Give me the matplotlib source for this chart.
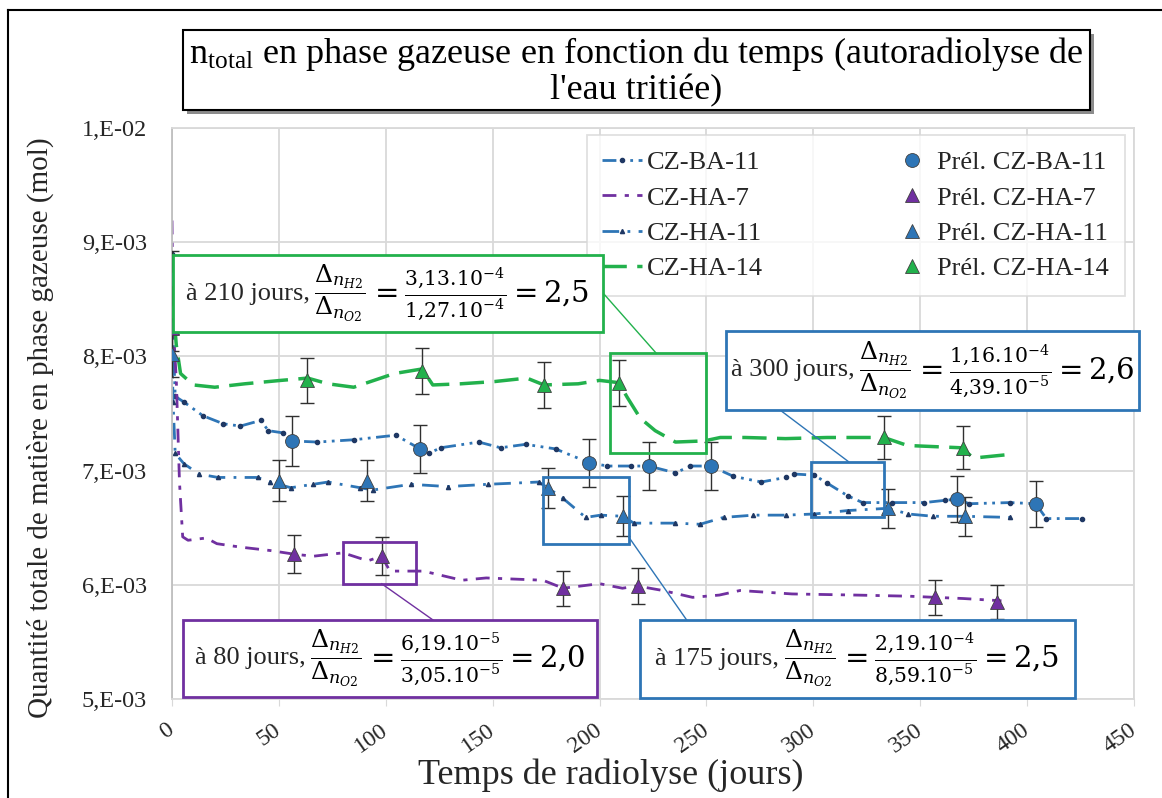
import matplotlib
matplotlib.use("Agg")
import matplotlib.pyplot as plt
from matplotlib.patches import Rectangle
from matplotlib.lines import Line2D
from matplotlib.offsetbox import TextArea, HPacker, AnnotationBbox

plt.rcParams['font.family'] = ['Liberation Serif', 'DejaVu Serif']
plt.rcParams['mathtext.fontset'] = 'dejavuserif'

# amounts in 1e-3 mol, time in days
ba11_x = [0, 0.5, 1.5, 5.6, 14.5, 24, 32, 41.6, 45, 52, 56, 68, 85, 104.7, 116, 120, 125.7,
          143.5, 153.7, 165.4, 179.4, 195, 203.7, 214.5, 223, 235.5, 242.5, 252, 262.6,
          275.7, 287, 291, 300.5, 306.5, 316, 323, 337, 352, 361.7, 367, 373, 392, 404,
          409, 425.7]
ba11_y = [8.9, 8.2, 7.65, 7.6, 7.48, 7.41, 7.39, 7.44, 7.35, 7.33, 7.26, 7.25, 7.27, 7.31,
          7.19, 7.15, 7.20, 7.25, 7.20, 7.23, 7.19, 7.07, 7.04, 7.04, 7.04, 6.98, 7.04,
          7.04, 6.95, 6.90, 6.94, 6.97, 6.96, 6.89, 6.78, 6.72, 6.72, 6.72, 6.74, 6.75,
          6.71, 6.72, 6.71, 6.58, 6.58]

ha7_x = [0, 0.5, 2, 3.5, 5, 7.5, 16, 21, 32, 46, 56.5, 66, 80, 91.6, 98, 102, 117.6, 135.6,
         147, 173.5, 183, 200, 210.7, 217.5, 229.6, 243.5, 256, 265.7, 290, 320, 345, 357,
         370, 388]
ha7_y = [9.19, 8.3, 7.8, 6.9, 6.42, 6.39, 6.41, 6.36, 6.33, 6.30, 6.27, 6.25, 6.28, 6.21,
         6.25, 6.12, 6.12, 6.04, 6.06, 6.04, 5.97, 6.01, 5.97, 5.99, 5.95, 5.89, 5.91, 5.95,
         5.92, 5.91, 5.90, 5.89, 5.88, 5.86]

ha11_x = [0, 0.5, 1.5, 5.6, 12.6, 21.5, 40, 46, 55.6, 66, 73, 88, 94, 111.7, 129, 147.7,
          171.5, 175.7, 182.7, 193.5, 200.5, 211, 216, 235.5, 247, 258, 272, 287, 300.5,
          316, 335, 344.4, 356, 371, 392]
ha11_y = [8.05, 7.6, 7.15, 7.06, 6.97, 6.94, 6.94, 6.90, 6.85, 6.88, 6.90, 6.85, 6.83,
          6.88, 6.86, 6.88, 6.90, 6.85, 6.76, 6.59, 6.61, 6.60, 6.54, 6.54, 6.53, 6.59,
          6.61, 6.61, 6.62, 6.65, 6.67, 6.62, 6.60, 6.60, 6.59]

ha14_x = [0, 0.5, 2, 4, 10, 20, 34, 51, 63.5, 73, 85, 104, 117, 122, 135, 151, 166, 174,
          190, 200, 209, 213, 219, 226, 235.5, 249, 256.5, 268, 287, 306.5, 321.5, 333, 344,
          369, 375, 391]
ha14_y = [8.9, 8.45, 8.1, 7.85, 7.75, 7.73, 7.76, 7.79, 7.81, 7.76, 7.73, 7.85, 7.89,
          7.75, 7.76, 7.78, 7.81, 7.75, 7.76, 7.79, 7.77, 7.64, 7.46, 7.35, 7.25, 7.26,
          7.29, 7.29, 7.28, 7.29, 7.29, 7.29, 7.22, 7.20, 7.11, 7.14]

# sampling points (Prél.) with error bars
pba11_x = [0, 56, 116, 195, 223, 252, 367, 404]
pba11_y = [8.68, 7.26, 7.19, 7.07, 7.04, 7.04, 6.75, 6.71]
pba11_e = [0.24, 0.22, 0.21, 0.21, 0.21, 0.21, 0.20, 0.20]

pha7_x = [0, 57, 98, 183, 218, 357, 386]
pha7_y = [8.25, 6.27, 6.25, 5.97, 5.99, 5.89, 5.85]
pha7_e = [0.20, 0.17, 0.165, 0.155, 0.16, 0.155, 0.15]

pha11_x = [0, 50, 91, 176, 211, 335, 371]
pha11_y = [8.02, 6.91, 6.91, 6.85, 6.60, 6.67, 6.60]
pha11_e = [0.20, 0.18, 0.18, 0.175, 0.175, 0.17, 0.17]

pha14_x = [0, 63, 117, 174, 209, 333, 370]
pha14_y = [8.40, 7.79, 7.87, 7.75, 7.77, 7.29, 7.20]
pha14_e = [0.20, 0.20, 0.20, 0.20, 0.20, 0.19, 0.19]

xticks = [0, 50, 100, 150, 200, 250, 300, 350, 400, 450]
yticks = [5, 6, 7, 8, 9, 10]
ytick_labels = ["5,E-03", "6,E-03", "7,E-03", "8,E-03", "9,E-03", "1,E-02"]

BLUE = '#2e75b6'
NAVY = '#1f3864'
PURPLE = '#7030a0'
GREEN = '#22b14c'
TEXT = '#262626'
GRID = '#d9d9d9'

W, H = 1162, 798


def fx(px):
    return px / W


def fy(py):
    return 1 - py / H


fig = plt.figure(figsize=(W / 100, H / 100), dpi=100)
ax = fig.add_axes([fx(172), fy(699), fx(1134) - fx(172), fy(128) - fy(699)])

ax.plot(ba11_x, ba11_y, color=BLUE, lw=2, ls=(0, (5, 2, 1, 2, 1, 2)), marker='o', ms=3,
        mfc=NAVY, mec=NAVY, label='CZ-BA-11', zorder=2)
ax.plot(ha7_x, ha7_y, color=PURPLE, lw=2, ls=(0, (5, 3, 1.5, 3)), label='CZ-HA-7', zorder=2)
ax.plot(ha11_x, ha11_y, color=BLUE, lw=2, ls=(0, (6, 3, 1, 3)), marker='^', ms=3,
        mfc=NAVY, mec=NAVY, label='CZ-HA-11', zorder=2)
ax.plot(ha14_x, ha14_y, color=GREEN, lw=2.5, ls=(0, (7, 3)), label='CZ-HA-14', zorder=2)

for px_, py_, pe_, col, mk, lab in [
        (pba11_x, pba11_y, pba11_e, BLUE, 'o', 'Prél. CZ-BA-11'),
        (pha7_x, pha7_y, pha7_e, PURPLE, '^', 'Prél. CZ-HA-7'),
        (pha11_x, pha11_y, pha11_e, BLUE, '^', 'Prél. CZ-HA-11'),
        (pha14_x, pha14_y, pha14_e, GREEN, '^', 'Prél. CZ-HA-14')]:
    ax.errorbar(px_, py_, yerr=pe_, fmt='none', ecolor='#303030', elinewidth=1,
                capsize=5, capthick=1, zorder=3)
    ax.plot(px_, py_, ls='none', marker=mk, ms=10, mfc=col, mec='#404040', mew=0.6,
            label=lab, zorder=4)

ax.set_xlim(0, 450)
ax.set_ylim(5, 10)
ax.set_xticks(xticks)
ax.set_xticklabels([str(t) for t in xticks], rotation=35, rotation_mode='anchor',
                   ha='right', va='center', fontsize=17, color=TEXT)
ax.set_yticks(yticks)
ax.set_yticklabels(ytick_labels, fontsize=17.5, color=TEXT)
ax.tick_params(axis='x', length=5, color=GRID, pad=16)
ax.tick_params(axis='y', length=0, pad=18)
ax.grid(True, color=GRID, lw=1.3)
ax.set_axisbelow(True)
for s in ax.spines.values():
    s.set_color(GRID)
    s.set_linewidth(1.3)
ax.spines['left'].set_color('#bfbfbf')

leg = ax.legend(ncol=2, loc='upper right', bbox_to_anchor=(0.9906, 0.9877),
                borderaxespad=0, fontsize=19, frameon=True, fancybox=False,
                edgecolor=GRID, handlelength=1.5, handletextpad=0.2,
                columnspacing=4.9, labelspacing=0.45, borderpad=0.6)
leg.get_frame().set_linewidth(1.3)
for t in leg.get_texts():
    t.set_color(TEXT)

# zoom boxes, connector lines and ratio boxes
notes = [
    dict(color=GREEN, small=(205.1, 7.158, 250.0, 8.026), big=(0.5, 8.211, 201.4, 8.886),
         link=((201.4, 226.6), (8.56, 8.026)), lead='à 210 jours,',
         num='3{,}13.10^{-4}', den='1{,}27.10^{-4}', res='2{,}5'),
    dict(color=BLUE, small=(299.0, 6.596, 333.2, 7.079), big=(259.3, 7.535, 452.3, 8.22),
         link=((284.1, 316.4), (7.535, 7.079)), lead='à 300 jours,',
         num='1{,}16.10^{-4}', den='4{,}39.10^{-5}', res='2{,}6'),
    dict(color=BLUE, small=(173.4, 6.36, 213.6, 6.947), big=(218.7, 5.01, 422.4, 5.693),
         link=((213.6, 240.7), (6.42, 5.693)), lead='à 175 jours,',
         num='2{,}19.10^{-4}', den='8{,}59.10^{-5}', res='2{,}5'),
    dict(color=PURPLE, small=(79.9, 6.009, 114.0, 6.377), big=(5.1, 5.018, 199.0, 5.693),
         link=((98.1, 122.0), (6.009, 5.693)), lead='à 80 jours,',
         num='6{,}19.10^{-5}', den='3{,}05.10^{-5}', res='2{,}0'),
]
for n in notes:
    x0, y0, x1, y1 = n['small']
    ax.add_patch(Rectangle((x0, y0), x1 - x0, y1 - y0, fill=False, ec=n['color'], lw=2,
                           zorder=6))
    ax.plot(n['link'][0], n['link'][1], color=n['color'], lw=1, zorder=6)
    x0, y0, x1, y1 = n['big']
    ax.add_patch(Rectangle((x0, y0), x1 - x0, y1 - y0, fc='white', ec=n['color'], lw=2,
                           zorder=7, clip_on=False))
    ratio = r"$\dfrac{\Delta_{n_{H2}}}{\Delta_{n_{O2}}}$"
    rest = r"$= \frac{%s}{%s} = %s$" % (n['num'], n['den'], n['res'])
    box = HPacker(children=[TextArea(n['lead'], textprops=dict(size=19, color=TEXT)),
                            TextArea(ratio, textprops=dict(size=18, color='black')),
                            TextArea(rest, textprops=dict(size=21, color='black'))],
                  align='center', pad=0, sep=3)
    ab = AnnotationBbox(box, ((x0 + x1) / 2, (y0 + y1) / 2), xycoords='data',
                        frameon=False, box_alignment=(0.5, 0.5), zorder=8,
                        annotation_clip=False)
    ax.add_artist(ab)

# title box with shadow
fig.add_artist(Rectangle((fx(187), fy(114)), fx(1094) - fx(187), fy(34) - fy(114),
                         transform=fig.transFigure, fc='#8c8c8c', ec='none'))
fig.add_artist(Rectangle((fx(183), fy(110)), fx(1090) - fx(183), fy(30) - fy(110),
                         transform=fig.transFigure, fc='white', ec='black', lw=1.5))
fig.text(fx(636), fy(71), "n$_\\mathregular{total}$ en phase gazeuse en fonction du temps "
         "(autoradiolyse de\nl'eau tritiée)", ha='center', va='center', fontsize=26,
         linespacing=1.05, color='black')

fig.text(fx(611), fy(775), "Temps de radiolyse (jours)", ha='center', va='center',
         fontsize=26, color=TEXT)
fig.text(fx(40), fy(428), "Quantité totale de matière en phase gazeuse (mol)",
         ha='center', va='center', rotation=90, fontsize=21, color=TEXT)

# outer frame
fig.add_artist(Line2D([fx(8), 1], [fy(10), fy(10)], transform=fig.transFigure,
                      color='black', lw=1.5))
fig.add_artist(Line2D([fx(8), fx(8)], [fy(10), 0], transform=fig.transFigure,
                      color='black', lw=1.5))

fig.savefig("out.png", dpi=100)
